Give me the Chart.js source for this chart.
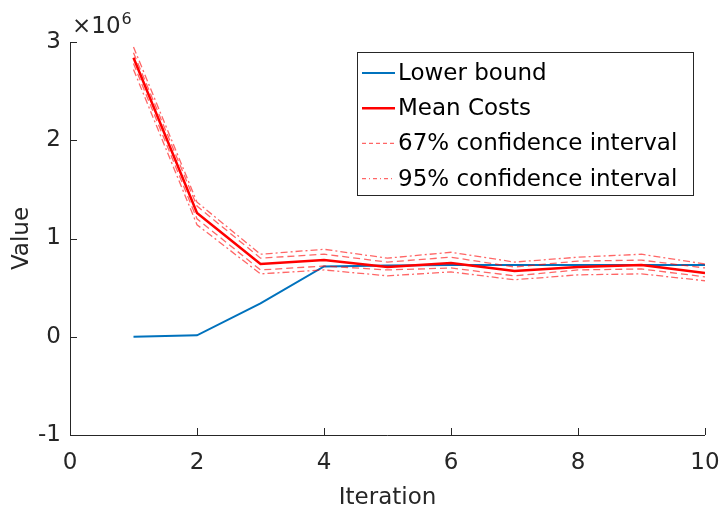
<!DOCTYPE html>
<html>
<head>
<meta charset="utf-8">
<script src="https://cdn.jsdelivr.net/npm/chart.js@4"></script>
<style>
  html, body { margin: 0; padding: 0; background: #fff; }
  #wrap { width: 721px; height: 509px; }
</style>
</head>
<body>
<div id="wrap"><canvas id="costChart" width="721" height="509"></canvas></div>
<script>
  // data
  var iterations = [1, 2, 3, 4, 5, 6, 7, 8, 9, 10];
  var lowerBound = [0, 15000, 340000, 715000, 725000, 730000, 730000, 730000, 730000, 730000];
  var meanCosts  = [2840000, 1260000, 740000, 780000, 710000, 750000, 670000, 710000, 730000, 650000];
  var ci67Upper  = [2890000, 1330000, 800000, 840000, 760000, 810000, 710000, 770000, 780000, 700000];
  var ci67Lower  = [2780000, 1200000, 680000, 720000, 680000, 700000, 620000, 680000, 690000, 610000];
  var ci95Upper  = [2950000, 1370000, 840000, 890000, 800000, 860000, 760000, 810000, 840000, 740000];
  var ci95Lower  = [2720000, 1140000, 640000, 680000, 620000, 660000, 580000, 630000, 640000, 570000];
  var xTicks = [0, 2, 4, 6, 8, 10];
  var yTicks = [-1000000, 0, 1000000, 2000000, 3000000];

  var FONT = "'DejaVu Sans', 'Liberation Sans', sans-serif";
  var AXIS = '#262626';
  var CI_RED = 'rgba(255,0,0,0.6)';

  function pts(arr) {
    return iterations.map(function (it, i) { return { x: it, y: arr[i] }; });
  }

  function line(label, arr, color, width, dash, order) {
    return {
      label: label,
      data: pts(arr),
      borderColor: color,
      backgroundColor: color,
      borderWidth: width,
      borderDash: dash,
      pointRadius: 0,
      tension: 0,
      fill: false,
      order: order
    };
  }

  var datasets = [
    line('Lower bound', lowerBound, '#0072BD', 2, [], 6),
    line('Mean Costs', meanCosts, '#FF0000', 2.5, [], 5),
    line('67% confidence interval', ci67Upper, CI_RED, 1.3, [7, 4], 4),
    line('67% confidence interval', ci67Lower, CI_RED, 1.3, [7, 4], 3),
    line('95% confidence interval', ci95Upper, CI_RED, 1.3, [7, 3, 2, 3], 2),
    line('95% confidence interval', ci95Lower, CI_RED, 1.3, [7, 3, 2, 3], 1)
  ];

  // axes lines, inward ticks, exponent label and legend box like matlab
  var matlabBits = {
    id: 'matlabBits',
    afterDraw: function (chart) {
      var ctx = chart.ctx;
      var a = chart.chartArea;
      var xs = chart.scales.x, ys = chart.scales.y;
      ctx.save();
      ctx.strokeStyle = AXIS;
      ctx.lineWidth = 1;
      ctx.beginPath();
      ctx.moveTo(a.left + 0.5, a.top);
      ctx.lineTo(a.left + 0.5, a.bottom + 0.5);
      ctx.lineTo(a.right, a.bottom + 0.5);
      ctx.stroke();
      ctx.beginPath();
      xTicks.forEach(function (v) {
        var px = Math.round(xs.getPixelForValue(v)) + 0.5;
        ctx.moveTo(px, a.bottom);
        ctx.lineTo(px, a.bottom - 7);
      });
      yTicks.forEach(function (v) {
        var py = Math.round(ys.getPixelForValue(v)) + 0.5;
        ctx.moveTo(a.left, py);
        ctx.lineTo(a.left + 7, py);
      });
      ctx.stroke();

      // x10^6
      ctx.fillStyle = AXIS;
      ctx.textBaseline = 'alphabetic';
      ctx.textAlign = 'left';
      ctx.font = '23px ' + FONT;
      ctx.fillText('\u00d710', a.left + 2, a.top - 9);
      var w = ctx.measureText('\u00d710').width;
      ctx.font = '16px ' + FONT;
      ctx.fillText('6', a.left + 3 + w, a.top - 18);

      // legend
      var bx = 357, by = 52, bw = 336, bh = 143;
      ctx.fillStyle = '#fff';
      ctx.fillRect(bx, by, bw, bh);
      ctx.strokeStyle = AXIS;
      ctx.lineWidth = 1;
      ctx.strokeRect(bx + 0.5, by + 0.5, bw, bh);
      var rows = [datasets[0], datasets[1], datasets[2], datasets[4]];
      ctx.font = '23px ' + FONT;
      ctx.textBaseline = 'middle';
      rows.forEach(function (ds, i) {
        var y = 73 + i * 35.2;
        ctx.strokeStyle = ds.borderColor;
        ctx.lineWidth = ds.borderWidth;
        ctx.setLineDash(ds.borderDash.length ? [4, 3].concat(ds.borderDash.length > 2 ? [1, 3] : []) : []);
        ctx.beginPath();
        ctx.moveTo(362, y);
        ctx.lineTo(395, y);
        ctx.stroke();
        ctx.setLineDash([]);
        ctx.fillStyle = '#000';
        ctx.fillText(ds.label, 398, y + 1);
      });
      ctx.restore();
    }
  };

  var ctx = document.getElementById('costChart');
  new Chart(ctx, {
    type: 'line',
    data: { datasets: datasets },
    options: {
      responsive: false,
      animation: false,
      layout: { padding: { left: 0, right: 16, top: 42, bottom: 0 } },
      plugins: {
        legend: { display: false },
        tooltip: { enabled: false }
      },
      scales: {
        x: {
          type: 'linear',
          min: 0, max: 10,
          afterFit: function (s) { s.height = 74; s.paddingLeft = 0; s.paddingRight = 0; },
          afterBuildTicks: function (s) { s.ticks = xTicks.map(function (v) { return { value: v }; }); },
          grid: { display: false, drawTicks: false },
          border: { display: false },
          ticks: { color: AXIS, font: { family: FONT, size: 23 }, padding: 14, maxRotation: 0 },
          title: { display: true, text: 'Iteration', color: AXIS, font: { family: FONT, size: 23 }, padding: { top: 0, bottom: -3 } }
        },
        y: {
          type: 'linear',
          min: -1000000, max: 3000000,
          afterFit: function (s) { s.width = 70; s.paddingTop = 0; s.paddingBottom = 0; },
          afterBuildTicks: function (s) { s.ticks = yTicks.map(function (v) { return { value: v }; }); },
          grid: { display: false, drawTicks: false },
          border: { display: false },
          ticks: {
            color: AXIS, font: { family: FONT, size: 23 }, padding: 9,
            callback: function (v) { return String(v / 1000000); }
          },
          title: { display: true, text: 'Value', color: AXIS, font: { family: FONT, size: 23 }, padding: { top: 8, bottom: 0 } }
        }
      }
    },
    plugins: [matlabBits]
  });
</script>
</body>
</html>
